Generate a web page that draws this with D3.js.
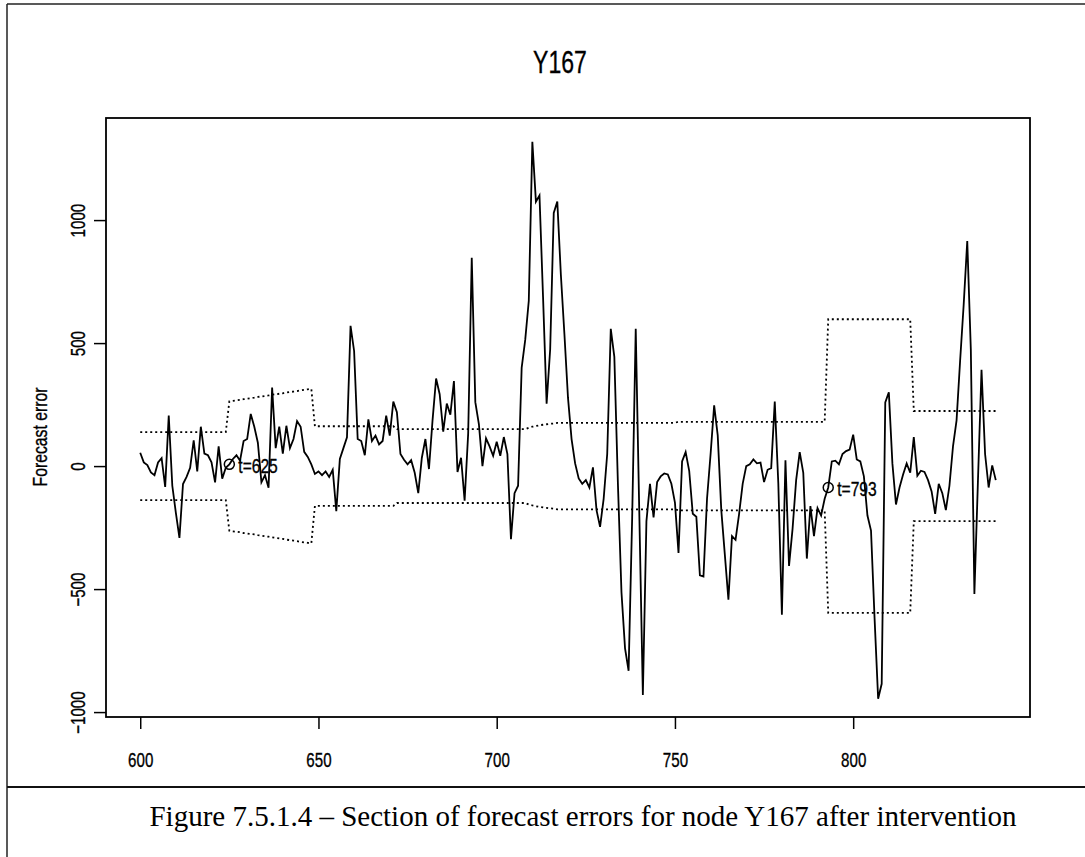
<!DOCTYPE html>
<html>
<head>
<meta charset="utf-8">
<script src="https://cdn.jsdelivr.net/npm/d3@7"></script>
<style>
body { margin: 0; background: #fff; }
svg { display: block; }
text { font-family: "Liberation Sans", Arial, sans-serif; fill: #000; }
.heavy { stroke: #000; stroke-width: 0.35px; }
</style>
</head>
<body>
<svg width="1085" height="857"></svg>
<script>
// forecast errors, one value per time step starting at t = 600
const tStart = 600;
const errors = [
  54, 15, 4, -26, -37, 15, 32, -85, 205, -80,
  -190, -292, -73, -44, -7, 105, -22, 160, 51, 44,
  15, -66, 80, -51, -7, 7, 29, 44, 22, 102,
  110, 212, 160, 95, -66, -37, -88, 319, 73, 160,
  51, 164, 73, 110, 183, 160, 58, 37, 7, -32,
  -22, -37, -22, -44, -15, -183, 29, 73, 117, 570,
  468, 110, 102, 44, 190, 102, 124, 88, 102, 205,
  124, 262, 219, 49, 26, 7, 24, -27, -110, 34,
  110, -12, 186, 356, 292, 140, 254, 209, 346, -24,
  34, -141, 133, 847, 260, 171, 0, 113, 80, 42,
  99, 42, 118, 49, -297, -110, -80, 399, 513, 672,
  1318, 1075, 1100, 687, 254, 475, 1029, 1075, 778, 535,
  277, 110, 11, -50, -72, -57, -87, -5, -179, -247,
  -133, 49, 558, 444, -72, -513, -741, -832, -209, 558,
  -190, -930, -224, -72, -209, -65, -42, -30, -34, -72,
  -148, -353, 19, 57, -19, -194, -206, -444, -449, -133,
  49, 247, 125, -179, -361, -543, -285, -300, -194, -72,
  0, 7, 27, 11, 14, -65, -15, -8, 262, -72,
  -604, 24, -406, -254, -57, 57, -27, -376, -163, -285,
  -171, -201, -133, -87, 19, 22, 7, 49, 61, 67,
  128, 27, 19, -42, -201, -262, -619, -946, -885, 259,
  300, 11, -156, -87, -34, 11, -27, 118, -39, -19,
  -24, -57, -103, -194, -72, -110, -179, -80, 80, 186,
  429, 657, 915, 475, -520, -60, 391, 49, -87, 3,
  -57
];
// half width of the limits (drawn as +bound and -bound)
const bound = [
  138, 138, 138, 138, 138, 138, 138, 138, 138, 138,
  138, 138, 138, 138, 138, 138, 138, 138, 138, 138,
  138, 138, 138, 138, 138,
  263, 265, 267, 269, 272, 274, 276, 278, 281, 283, 285, 287,
  290, 292, 294, 296, 299, 301, 303, 305, 308, 310, 312, 314,
  162, 162, 162, 162, 162, 162, 162, 162, 162, 162,
  162, 162, 162, 162, 162, 162, 162, 162, 162, 162,
  162, 162, 162,
  150, 150, 150, 150, 150, 150, 150, 150, 150, 150,
  150, 150, 150, 150, 150, 150, 150, 150, 150, 150,
  150, 150, 150, 150, 150, 150, 150, 150, 150, 150,
  150, 150, 150, 150, 150, 150, 150,
  156, 160, 163, 166, 168, 170, 172, 173,
  176, 176, 176, 176, 176, 176, 176, 176, 176, 176,
  176, 176, 176, 176, 176, 176, 176, 176, 176, 176,
  176, 176, 176, 176, 176, 176, 176, 176, 176, 176,
  176, 176, 176, 176,
  180, 180, 180, 180, 180, 180, 180, 180, 180, 180,
  180, 180, 180, 180, 180, 180, 180, 180, 180, 180,
  180, 180, 180, 180, 180, 180, 180, 180, 180, 180,
  180, 180, 180, 180, 180, 180, 180, 180, 180, 180,
  180, 180,
  597, 597, 597, 597, 597, 597, 597, 597, 597, 597,
  597, 597, 597, 597, 597, 597, 597, 597, 597, 597,
  597, 597, 597, 597,
  224, 224, 224, 224, 224, 224, 224, 224, 224, 224,
  224, 224, 224, 224, 224, 224, 224, 224, 224, 224,
  224, 224, 224, 224
];
const interventions = [625, 793];
const xTicks = [600, 650, 700, 750, 800];
const yTicks = [-1000, -500, 0, 500, 1000];
const xLimits = [590.4, 849.6];
const yLimits = [-1020, 1415];
const titleText = "Y167";
const yLabel = "Forecast error";
const captionText = "Figure 7.5.1.4 \u2013 Section of forecast errors for node Y167 after intervention";

const svg = d3.select("svg");
const box = {left: 106, right: 1030, top: 118, bottom: 717};
const squeeze = 0.72; // the original text is set in a narrow face

var x = d3.scaleLinear().domain(xLimits).range([box.left, box.right]);
var y = d3.scaleLinear().domain(yLimits).range([box.bottom, box.top]);

var pts = errors.map(function(v, i) { return {t: tStart + i, v: v}; });
var lims = bound.map(function(v, i) { return {t: tStart + i, v: v}; });

// page frame + caption rule
svg.append("line").attr("x1", 7).attr("x2", 7).attr("y1", 4).attr("y2", 857)
  .attr("stroke", "#222").attr("stroke-width", 1.5);
svg.append("line").attr("x1", 7).attr("x2", 1085).attr("y1", 4).attr("y2", 4)
  .attr("stroke", "#222").attr("stroke-width", 1.5);
svg.append("line").attr("x1", 7).attr("x2", 1085).attr("y1", 787).attr("y2", 787)
  .attr("stroke", "#111").attr("stroke-width", 2.2);

// limits
var limLine = d3.line().x(function(d) { return x(d.t); });
svg.append("path").datum(lims)
  .attr("d", limLine.y(function(d) { return y(d.v); }))
  .attr("fill", "none").attr("stroke", "#000").attr("stroke-width", 1.8)
  .attr("stroke-dasharray", "2,3");
svg.append("path").datum(lims)
  .attr("d", limLine.y(function(d) { return y(-d.v); }))
  .attr("fill", "none").attr("stroke", "#000").attr("stroke-width", 1.8)
  .attr("stroke-dasharray", "2,3");

// series
svg.append("path").datum(pts)
  .attr("d", d3.line().x(function(d) { return x(d.t); }).y(function(d) { return y(d.v); }))
  .attr("fill", "none").attr("stroke", "#000").attr("stroke-width", 1.8)
  .attr("stroke-linejoin", "miter");

// intervention markers
var marks = pts.filter(function(d) { return interventions.indexOf(d.t) >= 0; });
svg.selectAll("circle.mark").data(marks).enter().append("circle")
  .attr("class", "mark")
  .attr("cx", function(d) { return x(d.t); })
  .attr("cy", function(d) { return y(d.v); })
  .attr("r", 5).attr("fill", "none").attr("stroke", "#000").attr("stroke-width", 1.5);
svg.selectAll("text.mark").data(marks).enter().append("text")
  .attr("class", "mark heavy")
  .attr("transform", function(d) {
    return "translate(" + (x(d.t) + 9) + "," + (y(d.v) + 9) + ") scale(0.78,1)";
  })
  .style("font-size", "20px")
  .text(function(d) { return "t=" + d.t; });

// plot box
svg.append("rect").attr("x", box.left).attr("y", box.top)
  .attr("width", box.right - box.left).attr("height", box.bottom - box.top)
  .attr("fill", "none").attr("stroke", "#000").attr("stroke-width", 1.8);

// x axis
var gx = svg.append("g").attr("transform", "translate(0," + box.bottom + ")")
  .call(d3.axisBottom(x).tickValues(xTicks).tickSize(12).tickFormat(d3.format("d")));
gx.select(".domain").remove();
gx.selectAll("line").attr("stroke", "#000").attr("stroke-width", 1.5);
gx.selectAll("text")
  .attr("x", null).attr("y", null).attr("dy", null)
  .attr("class", "heavy")
  .attr("transform", "translate(0,50) scale(" + squeeze + ",1)")
  .attr("fill", "#000").style("font-size", "21px")
  .style("font-family", "'Liberation Sans', Arial, sans-serif");

// y axis
var gy = svg.append("g").attr("transform", "translate(" + box.left + ",0)")
  .call(d3.axisLeft(y).tickValues(yTicks).tickSize(12).tickFormat(d3.format("d")));
gy.select(".domain").remove();
gy.selectAll("line").attr("stroke", "#000").attr("stroke-width", 1.5);
gy.selectAll("text")
  .attr("x", null).attr("y", null).attr("dy", null)
  .attr("class", "heavy")
  .attr("text-anchor", "middle")
  .attr("transform", "translate(-21.5,0) rotate(-90) scale(" + squeeze + ",1)")
  .attr("fill", "#000").style("font-size", "21px")
  .style("font-family", "'Liberation Sans', Arial, sans-serif");

// title, axis label, caption
svg.append("text")
  .attr("class", "heavy")
  .attr("transform", "translate(560,73) scale(" + squeeze + ",1)")
  .attr("text-anchor", "middle").style("font-size", "32px")
  .text(titleText);
svg.append("text")
  .attr("class", "heavy")
  .attr("transform", "translate(47,437) rotate(-90) scale(0.75,1)")
  .attr("text-anchor", "middle").style("font-size", "21px")
  .text(yLabel);
svg.append("text")
  .attr("x", 583).attr("y", 826)
  .attr("text-anchor", "middle")
  .style("font-family", "'Liberation Serif', 'Times New Roman', serif")
  .style("font-size", "29px")
  .text(captionText);
</script>
</body>
</html>
